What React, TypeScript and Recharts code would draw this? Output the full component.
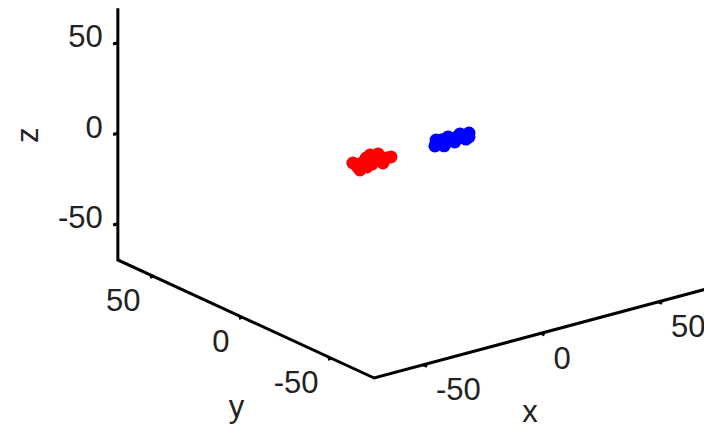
import React from 'react';
import { ScatterChart, Scatter, XAxis, YAxis } from 'recharts';

// axis limits of the 3-D box
const xLim = [-71, 70];
const yLim = [-74, 70];
const zLim = [-70, 69];

const xTicks = [-50, 0, 50];
const yTicks = [-50, 0, 50];
const zTicks = [-50, 0, 50];
const xTickLabels = ['-50', '0', '50'];
const yTickLabels = ['-50', '0', '50'];
const zTickLabels = ['-50', '0', '50'];

// cluster 1 (red)
const redX = [-13.3, -18.4, -14.2, -9.9, -20.1, -15.9, -24, -7.8, -21, -18, -11.2, -16.7, -13, -22];
const redY = [0, 0, 0, 0, 0, 0, 0, 0, 0, 0, 0, 0, 0, 0];
const redZ = [0.2, -0.3, -2.9, -3.3, -2.4, -4.5, -1.1, -3.4, -6.0, -5.4, -5.5, 0.8, -1.5, -4];

// cluster 2 (blue)
const blueX = [25.4, 21.6, 16.5, 11.4, 10.9, 14.8, 19.4, 24.1, 12.2, 17.3, 20.3, 25.4, 14, 22.5];
const blueY = [0, 0, 0, 0, 0, 0, 0, 0, 0, 0, 0, 0, 0, 0];
const blueZ = [-1.7, -0.9, -0.8, -0.7, -3.8, -5.1, -4.6, -4.6, -2.7, -3.3, -2.1, -3.9, -1.5, -3];

// view: screen offset per data unit
const EX = [2.35, -0.63];
const EY = [-1.78, -0.82];
const EZ = [0, -1.81];

const W = 704;
const H = 424;
const OX = 409.3;
const OY = 145.9;

const proj = (x: number, y: number, z: number, extra: object = {}) => ({
    u: EX[0] * x + EY[0] * y + EZ[0] * z,
    v: EX[1] * x + EY[1] * y + EZ[1] * z,
    ...extra
});

const boxLine = [
    proj(xLim[0], yLim[1], zLim[1]),
    proj(xLim[0], yLim[1], zLim[0]),
    proj(xLim[0], yLim[0], zLim[0]),
    proj(xLim[1], yLim[0], zLim[0])
];

const tickSegs = [
    ...zTicks.map(z => [proj(xLim[0], yLim[1], z), proj(xLim[0] - 2, yLim[1], z)]),
    ...yTicks.map(y => [proj(xLim[0], y, zLim[0]), proj(xLim[0] - 1.5, y, zLim[0])]),
    ...xTicks.map(x => [proj(x, yLim[0], zLim[0]), proj(x, yLim[0] - 2, zLim[0])])
];

const redPts = redX.map((x, i) => proj(x, redY[i], redZ[i]));
const bluePts = blueX.map((x, i) => proj(x, blueY[i], blueZ[i]));

const zLabels = zTicks.map((z, i) => proj(xLim[0], yLim[1], z, { label: zTickLabels[i] }));
const yLabels = yTicks.map((y, i) => proj(xLim[0], y, zLim[0], { label: yTickLabels[i] }));
const xLabels = xTicks.map((x, i) => proj(x, yLim[0], zLim[0], { label: xTickLabels[i] }));

const FONT = '"Liberation Sans", Arial, sans-serif';

const textShape = (anchor: string, dx: number, dy: number, rotate = 0) => (p: any) => {
    const x = p.cx + dx;
    const y = p.cy + dy;
    return (
        <text
            x={x}
            y={y}
            textAnchor={anchor}
            dominantBaseline="central"
            fontFamily={FONT}
            fontSize={31}
            fill="#222"
            transform={rotate ? `rotate(${rotate} ${x} ${y})` : undefined}
        >
            {p.payload.label}
        </text>
    );
};

const dot = (color: string) => (p: any) => <circle cx={p.cx} cy={p.cy} r={6.5} fill={color} />;
const none = () => <g />;

export default function App() {
    return (
        <div style={{ position: 'absolute', left: 0, top: 0, background: '#fff' }}>
            <ScatterChart width={W} height={H} margin={{ top: 0, right: 0, bottom: 0, left: 0 }}>
                <XAxis type="number" dataKey="u" domain={[-OX, W - OX]} allowDataOverflow hide />
                <YAxis type="number" dataKey="v" domain={[-OY, H - OY]} reversed allowDataOverflow hide />
                <Scatter
                    data={boxLine}
                    line={{ stroke: '#000', strokeWidth: 3 }}
                    shape={none}
                    isAnimationActive={false}
                />
                {tickSegs.map((seg, i) => (
                    <Scatter
                        key={`t${i}`}
                        data={seg}
                        line={{ stroke: '#000', strokeWidth: 3 }}
                        shape={none}
                        isAnimationActive={false}
                    />
                ))}
                <Scatter data={redPts} shape={dot('#ff0000')} isAnimationActive={false} />
                <Scatter data={bluePts} shape={dot('#0000ff')} isAnimationActive={false} />
                <Scatter data={zLabels} shape={textShape('end', -15, -6)} isAnimationActive={false} />
                <Scatter data={yLabels} shape={textShape('end', -13, 24)} isAnimationActive={false} />
                <Scatter data={xLabels} shape={textShape('start', 12.5, 25)} isAnimationActive={false} />
                <Scatter
                    data={[proj(xLim[0], yLim[1], 0, { label: 'z' })]}
                    shape={textShape('middle', -90, 2, -90)}
                    isAnimationActive={false}
                />
                <Scatter
                    data={[proj(xLim[0], 0, zLim[0], { label: 'y' })]}
                    shape={textShape('middle', -6, 89)}
                    isAnimationActive={false}
                />
                <Scatter
                    data={[proj(0, yLim[0], zLim[0], { label: 'x' })]}
                    shape={textShape('middle', -11, 78)}
                    isAnimationActive={false}
                />
            </ScatterChart>
        </div>
    );
}
